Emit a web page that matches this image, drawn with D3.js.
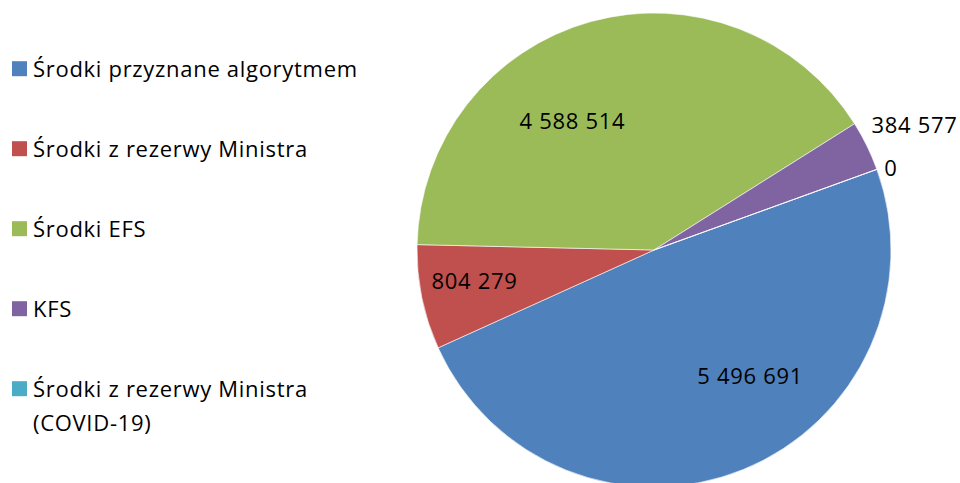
<!DOCTYPE html>
<html>
<head>
<meta charset="utf-8">
<script src="https://cdn.jsdelivr.net/npm/d3@7"></script>
<style>
body { margin: 0; background: #fff; }
text { font-family: "Open Sans", sans-serif; fill: #000; font-size: 22px; letter-spacing: 0.7px; }
</style>
</head>
<body>
<script>
var w = 960, h = 483;

// dane
var categories = ["Środki przyznane algorytmem", "Środki z rezerwy Ministra", "Środki EFS", "KFS", "Środki z rezerwy Ministra (COVID-19)"];
var values = [5496691, 804279, 4588514, 384577, 0];
var colors = ["#4F81BD", "#C0504D", "#9BBB59", "#8064A2", "#4BACC6"];
var legendLines = [["Środki przyznane algorytmem"], ["Środki z rezerwy Ministra"], ["Środki EFS"], ["KFS"], ["Środki z rezerwy Ministra", "(COVID-19)"]];

// label placement: [angle shift deg, radius]
var labelPlace = [[-15.2, 158.4], [1.7, 182.2], [-16.8, 152.8], [0.4, 289], [0.8, 250.8]];

var fmt = function(v) { return d3.format(",")(v).replace(/,/g, " "); };

var svg = d3.select("body").append("svg")
	.attr("width", w)
	.attr("height", h);

var cx = 654, cy = 250, r = 237;
var start = 70.1 * Math.PI / 180;

var pie = d3.pie().sort(null).value(function(d) { return d; })
	.startAngle(start).endAngle(start + 2 * Math.PI);
var arcs = pie(values);
var arc = d3.arc().innerRadius(0).outerRadius(r);

var g = svg.append("g").attr("transform", "translate(" + cx + "," + cy + ")");

g.selectAll("path")
	.data(arcs)
	.enter()
	.append("path")
	.attr("d", arc)
	.style("fill", function(d, i) { return colors[i]; })
	.style("stroke", "#fff")
	.style("stroke-width", 0.6);

g.selectAll("text.lab")
	.data(arcs)
	.enter()
	.append("text")
	.attr("class", "lab")
	.attr("text-anchor", "middle")
	.attr("dy", "0.36em")
	.attr("transform", function(d, i) {
		var a = (d.startAngle + d.endAngle) / 2 + labelPlace[i][0] * Math.PI / 180;
		var rr = labelPlace[i][1];
		return "translate(" + (rr * Math.sin(a)) + "," + (-rr * Math.cos(a)) + ")";
	})
	.text(function(d) { return fmt(d.value); });

// legenda
var legend = svg.append("g");
var rowH = 80;
legendLines.forEach(function(lines, i) {
	var base = 76.7 + i * rowH;
	legend.append("rect")
		.attr("x", 12).attr("y", base - 15.5)
		.attr("width", 15).attr("height", 15)
		.style("fill", colors[i]);
	lines.forEach(function(t, j) {
		legend.append("text")
			.attr("x", 33).attr("y", base + j * 34.7)
			.text(t);
	});
});
</script>
</body>
</html>
